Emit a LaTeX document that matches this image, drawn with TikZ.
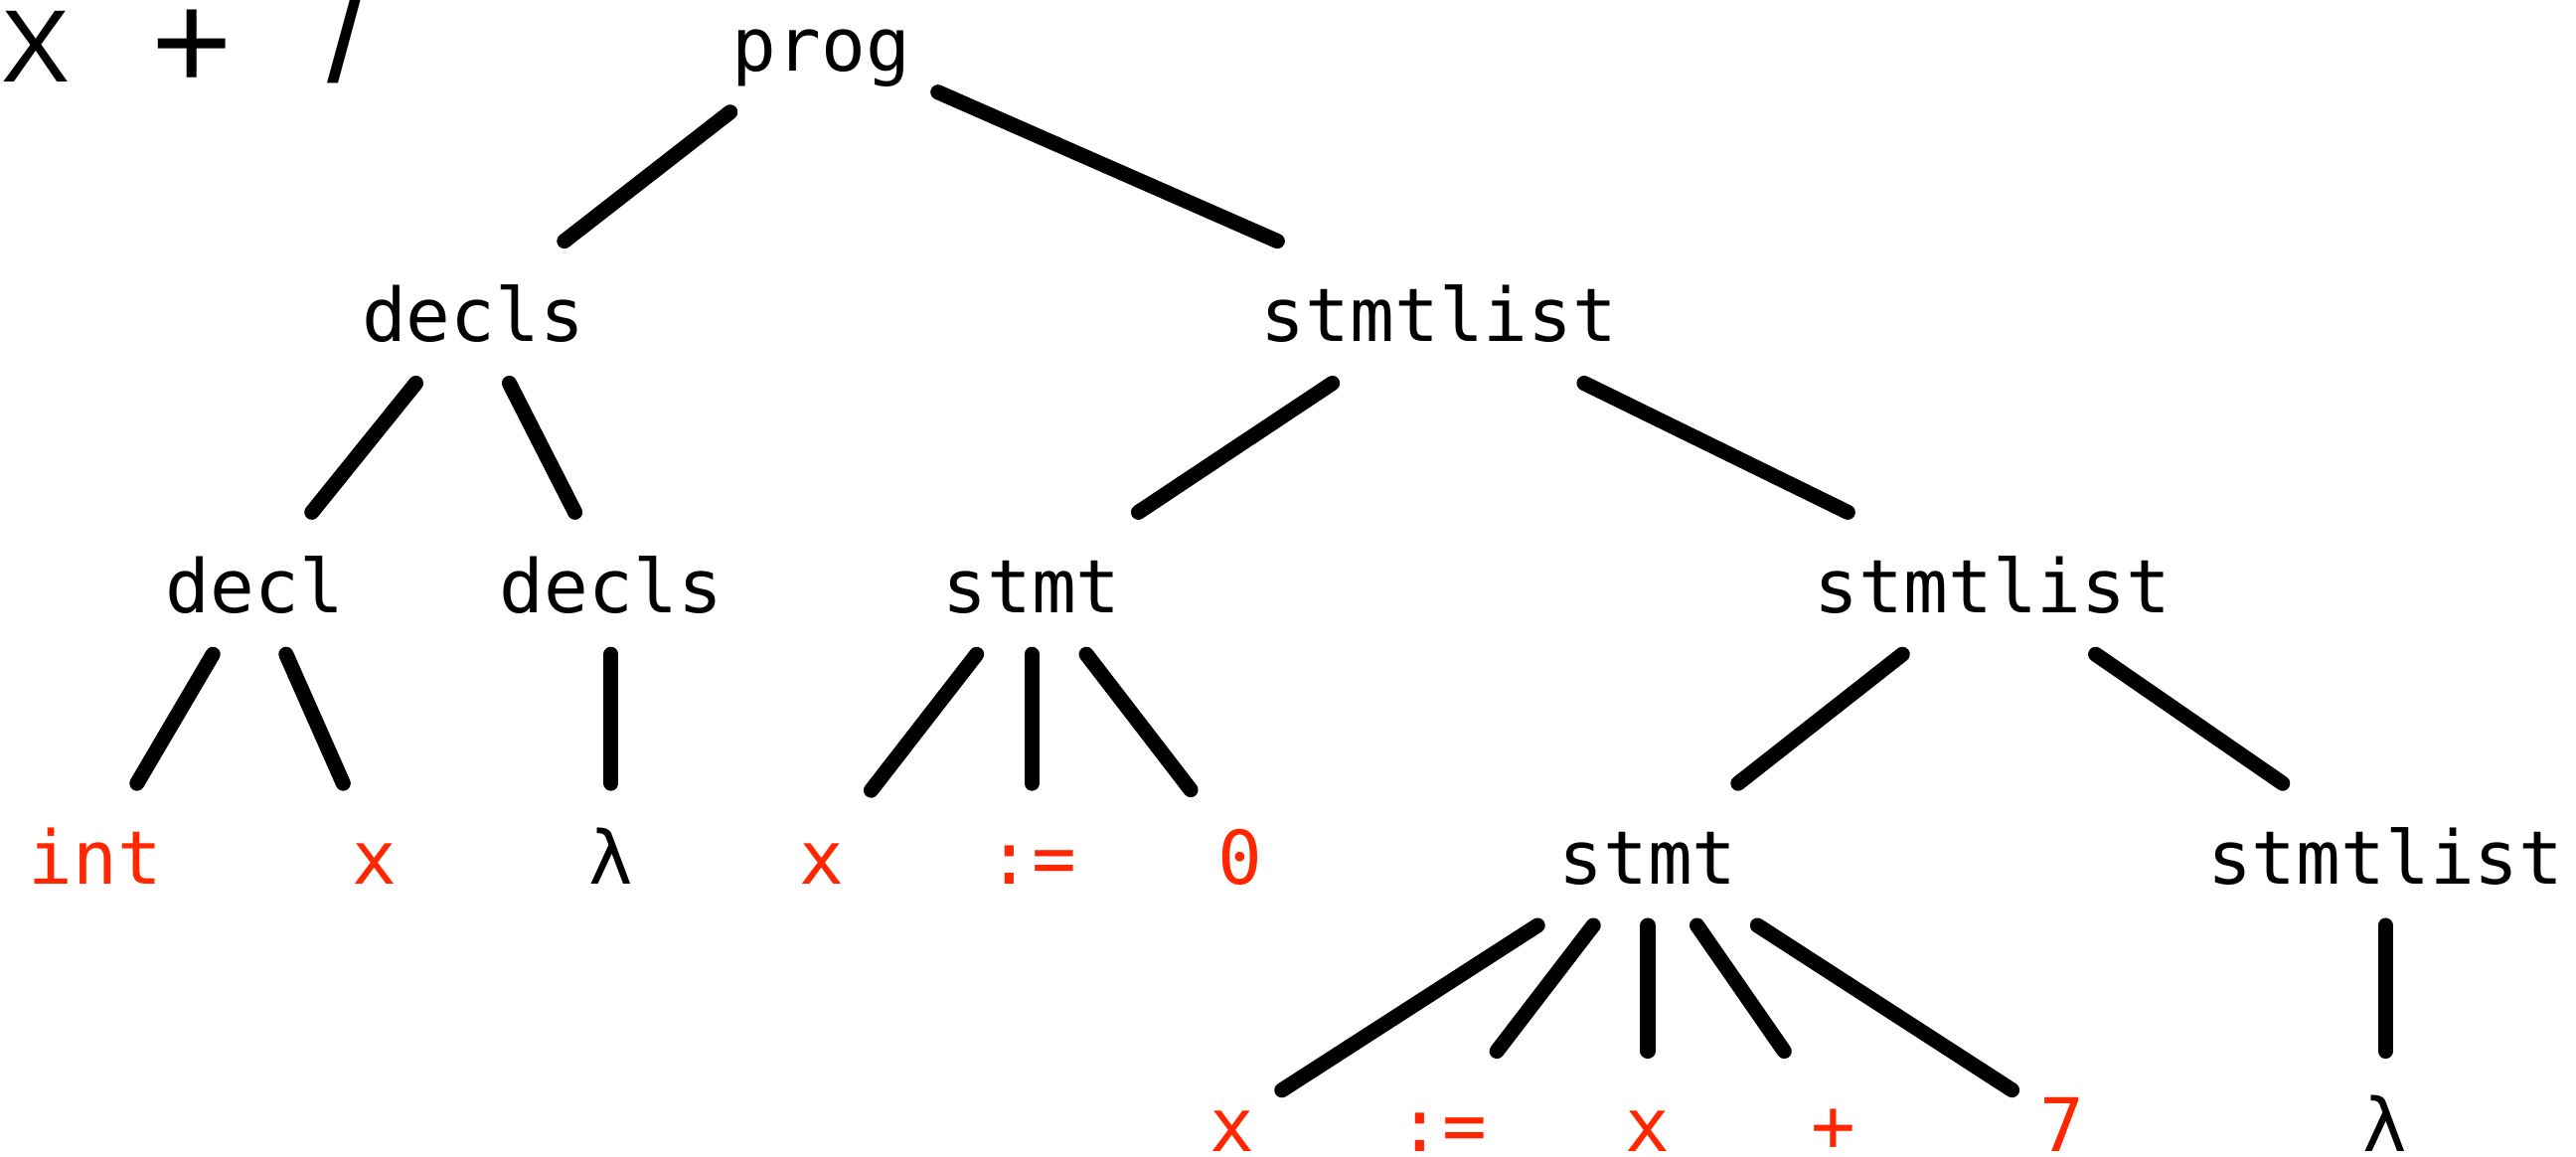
\documentclass[tikz,border=0pt]{standalone}
\usepackage{fontspec}
\newfontfamily\treefont{DejaVu Sans Mono}
\newfontfamily\headfont{Liberation Sans}
\usepackage{xcolor}
\definecolor{symcolor}{HTML}{000000}
\definecolor{tokencolor}{HTML}{FF2600}
\definecolor{branchcolor}{HTML}{000000}
\usepackage{tikz}
\tikzset{
    sym/.style={
        rectangle,
        text=symcolor,
        font=\treefont\fontsize{12.8pt}{15pt}\selectfont,
        anchor=base,
        inner xsep=0.16cm,
        inner ysep=0.245cm,
        text height=0.36cm,
        text depth=0pt,
    },
    tok/.style={
        sym,
        text=tokencolor,
    },
    branch/.style={
        line width=2.6pt,
        line cap=round,
        branchcolor,
    },
    head/.style={
        font=\headfont\fontsize{17.8pt}{21pt}\selectfont,
        anchor=base,
        inner sep=0pt,
    },
    bighead/.style={
        head,
        font=\headfont\fontsize{24pt}{28pt}\selectfont,
    },
}

\begin{document}
\begin{tikzpicture}[x=0.01cm, y=-0.01cm]
    \useasboundingbox (0,0) rectangle (1568,704);

    % Heading fragment
    \node[head] (hx) at (22,50) {X};
    \node[bighead] (hplus) at (117,55) {+};
    \node[bighead] (hslash) at (211,50) {/};

    % Level 0
    \node[sym] (prog) at (500,43) {prog};

    % Level 1
    \node[sym] (decls1) at (288,208) {decls};
    \node[sym] (slist1) at (876,208) {stmtlist};

    % Level 2
    \node[sym] (decl) at (155,373) {decl};
    \node[sym] (decls2) at (372,373) {decls};
    \node[sym] (stmt1) at (628,373) {stmt};
    \node[sym] (slist2) at (1213,373) {stmtlist};

    % Level 3
    \node[tok] (int) at (58,538) {int};
    \node[tok] (declx) at (228,538) {x};
    \node[sym] (lam1) at (372,538) {λ};
    \node[tok] (x1) at (500,538) {x};
    \node[tok] (as1) at (628,538) {:=};
    \node[tok] (zero) at (755,538) {0};
    \node[sym] (stmt2) at (1003,538) {stmt};
    \node[sym] (slist3) at (1452,538) {stmtlist};

    % Level 4
    \node[tok] (x2) at (750,701) {x};
    \node[tok] (as2) at (878,701) {:=};
    \node[tok] (x3) at (1003,701) {x};
    \node[tok] (plus) at (1116,701) {+};
    \node[tok] (seven) at (1255,701) {7};
    \node[sym] (lam2) at (1452,701) {λ};

    % Branches
    \draw[branch] (prog) -- (decls1);
    \draw[branch] (prog) -- (slist1);
    \draw[branch] (decls1) -- (decl);
    \draw[branch] (decls1) -- (decls2);
    \draw[branch] (slist1) -- (stmt1);
    \draw[branch] (slist1) -- (slist2);
    \draw[branch] (decl) -- (int);
    \draw[branch] (decl) -- (declx);
    \draw[branch] (decls2) -- (lam1);
    \draw[branch] (stmt1) -- (x1);
    \draw[branch] (stmt1) -- (as1);
    \draw[branch] (stmt1) -- (zero);
    \draw[branch] (slist2) -- (stmt2);
    \draw[branch] (slist2) -- (slist3);
    \draw[branch] (stmt2) -- (x2);
    \draw[branch] (stmt2) -- (as2);
    \draw[branch] (stmt2) -- (x3);
    \draw[branch] (stmt2) -- (plus);
    \draw[branch] (stmt2) -- (seven);
    \draw[branch] (slist3) -- (lam2);

\end{tikzpicture}
\end{document}
